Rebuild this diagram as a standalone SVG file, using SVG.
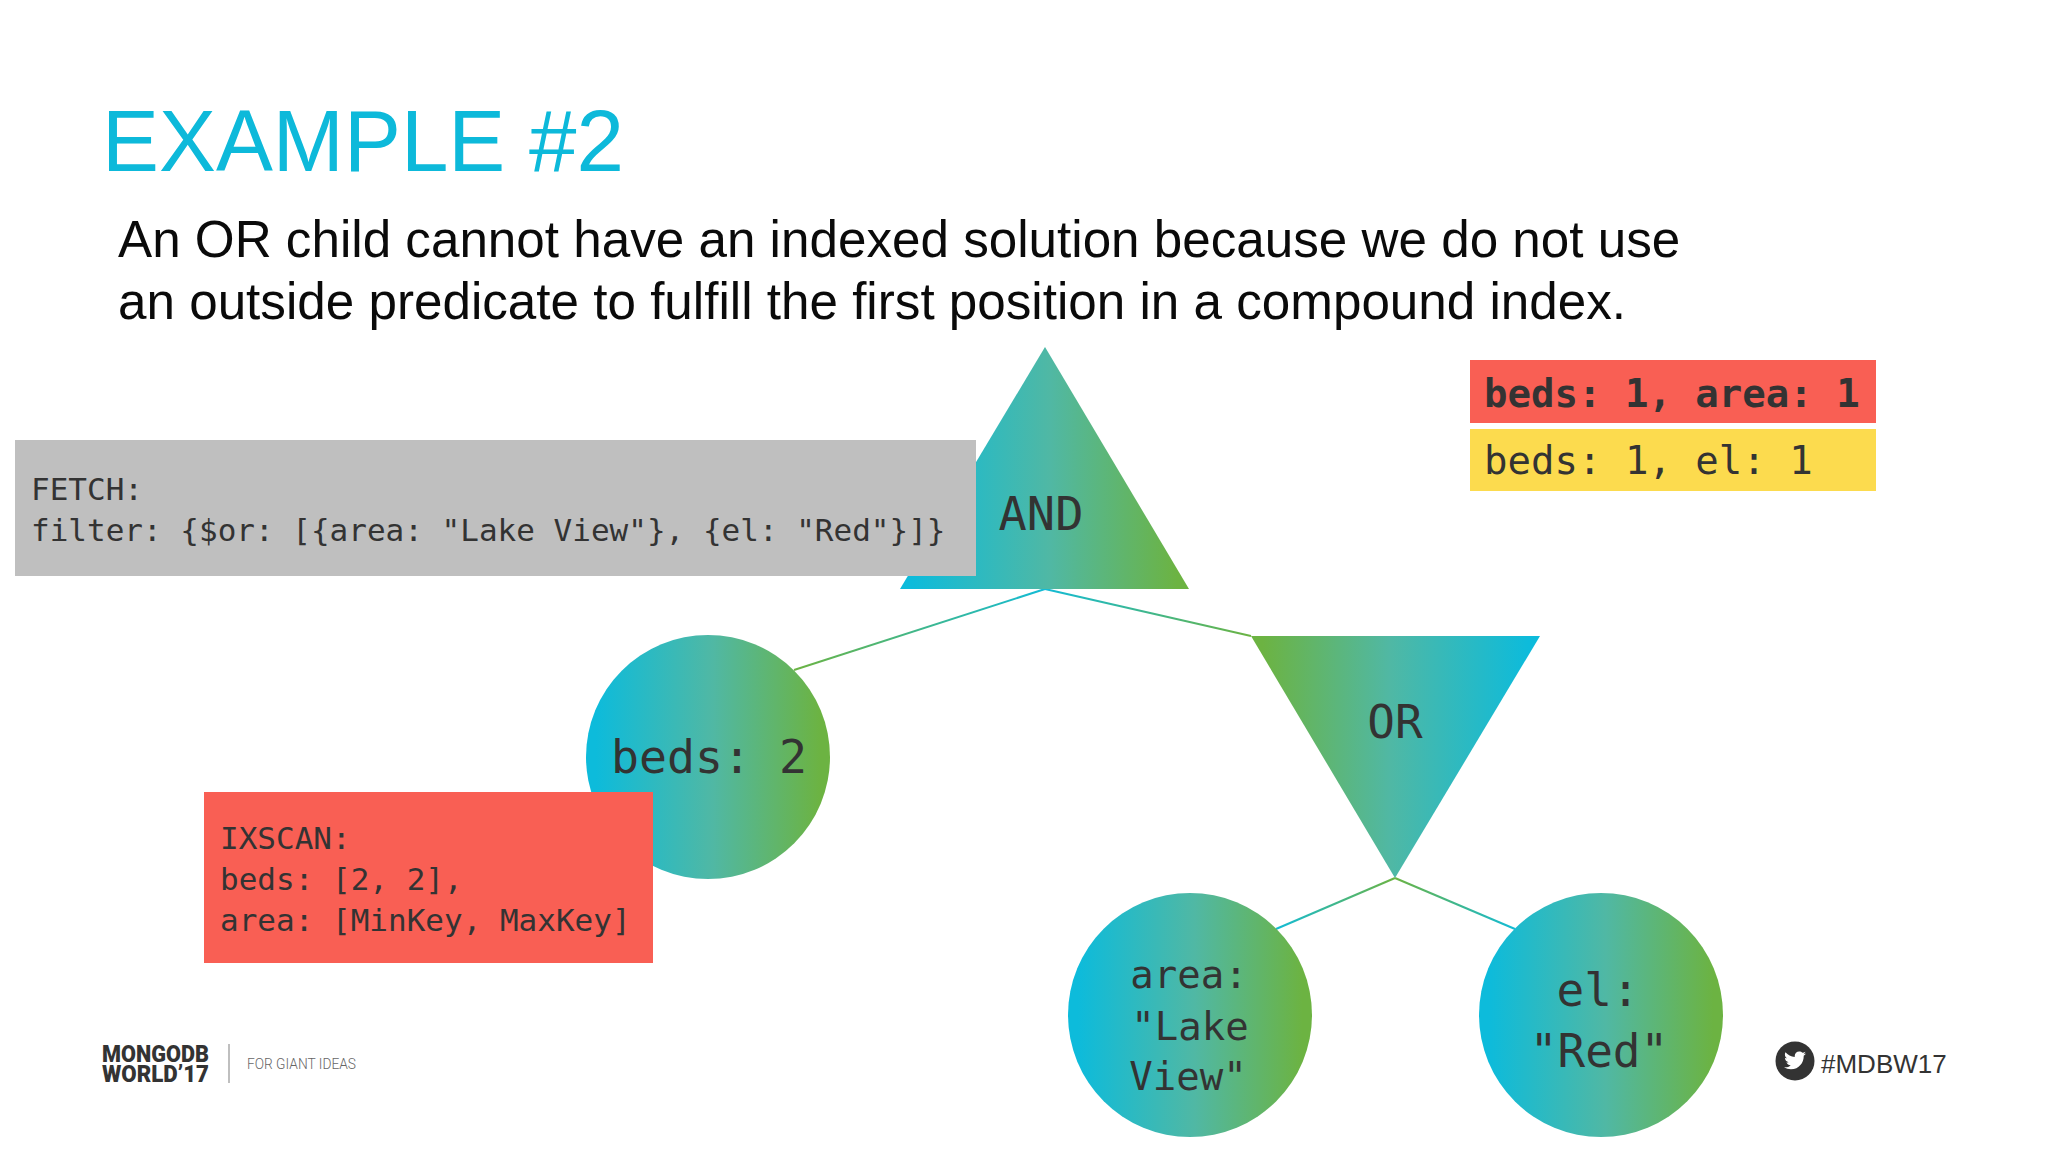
<svg xmlns="http://www.w3.org/2000/svg" width="2048" height="1152" viewBox="0 0 2048 1152">
<style>
.mono{font-family:"DejaVu Sans Mono","Liberation Mono",monospace;fill:#333}
.sans{font-family:"Liberation Sans",Arial,sans-serif}
.c{text-anchor:middle}
.link{fill:none;stroke-width:2}
</style>
<defs>
<linearGradient id="cg" x1="0" y1="0" x2="1" y2="0"><stop offset="0.04" stop-color="#0dbbdb"/><stop offset="0.52" stop-color="#50b8a4"/><stop offset="0.96" stop-color="#6cb342"/></linearGradient>
<linearGradient id="gc" x1="0" y1="0" x2="1" y2="0"><stop offset="0.04" stop-color="#6cb342"/><stop offset="0.48" stop-color="#50b8a4"/><stop offset="0.96" stop-color="#0dbbdb"/></linearGradient>
<linearGradient id="l1" gradientUnits="userSpaceOnUse" x1="1045" y1="589" x2="794" y2="670"><stop offset="0" stop-color="#13bbd6"/><stop offset="1" stop-color="#6cb342"/></linearGradient>
<linearGradient id="l2" gradientUnits="userSpaceOnUse" x1="1045" y1="589" x2="1251" y2="636"><stop offset="0" stop-color="#13bbd6"/><stop offset="1" stop-color="#6cb342"/></linearGradient>
<linearGradient id="l3" gradientUnits="userSpaceOnUse" x1="1276" y1="929" x2="1395" y2="878"><stop offset="0" stop-color="#13bbd6"/><stop offset="1" stop-color="#6cb342"/></linearGradient>
<linearGradient id="l4" gradientUnits="userSpaceOnUse" x1="1395" y1="878" x2="1515" y2="929"><stop offset="0" stop-color="#6cb342"/><stop offset="1" stop-color="#13bbd6"/></linearGradient>
</defs>
<rect width="2048" height="1152" fill="#fff"/>
<text class="sans" x="102" y="171" font-size="88" fill="#0db9da" textLength="522" lengthAdjust="spacingAndGlyphs">EXAMPLE #2</text>
<text class="sans" font-size="51.200" fill="#0a0a0a"><tspan x="118" y="257">An OR child cannot have an indexed solution because we do not use</tspan><tspan x="118" y="319">an outside predicate to fulfill the first position in a compound index.</tspan></text>
<g id="connectors">
<path class="link" stroke="url(#l1)" d="M1045 589L794 670"/>
<path class="link" stroke="url(#l2)" d="M1045 589L1251 636"/>
<path class="link" stroke="url(#l3)" d="M1395 878L1276 929"/>
<path class="link" stroke="url(#l4)" d="M1395 878L1515 929"/>
</g>
<g id="node-and"><polygon points="1045,347 1189,589 900,589" fill="url(#cg)"/><text class="mono c" x="1041" y="530" font-size="47">AND</text></g>
<g id="node-or"><polygon points="1251,636 1540,636 1395,878" fill="url(#gc)"/><text class="mono c" x="1395" y="738" font-size="46">OR</text></g>
<g id="node-beds"><circle cx="708" cy="757" r="122" fill="url(#cg)"/><text class="mono c" x="709" y="773" font-size="46.500">beds: 2</text></g>
<g id="node-area"><circle cx="1190" cy="1015" r="122" fill="url(#cg)"/><text class="mono c" font-size="39"><tspan x="1189" y="988">area:</tspan><tspan x="1190" y="1040">"Lake</tspan><tspan x="1188" y="1090">View"</tspan></text></g>
<g id="node-el"><circle cx="1601" cy="1015" r="122" fill="url(#cg)"/><text class="mono c" font-size="46"><tspan x="1598" y="1006">el:</tspan><tspan x="1599" y="1067">"Red"</tspan></text></g>
<g id="fetch"><rect x="15" y="440" width="961" height="136" fill="#bfbfbf"/><text class="mono" font-size="31"><tspan x="31" y="500">FETCH:</tspan><tspan x="31" y="541">filter: {$or: [{area: "Lake View"}, {el: "Red"}]}</tspan></text></g>
<g id="ixscan"><rect x="204" y="792" width="449" height="171" fill="#f95f54"/><text class="mono" font-size="31"><tspan x="220" y="849">IXSCAN:</tspan><tspan x="220" y="890">beds: [2, 2],</tspan><tspan x="220" y="931">area: [MinKey, MaxKey]</tspan></text></g>
<g id="index-1"><rect x="1470" y="360" width="406" height="63" fill="#f95f54"/><text class="mono" x="1484" y="407" font-size="39" font-weight="700">beds: 1, area: 1</text></g>
<g id="index-2"><rect x="1470" y="429" width="406" height="62" fill="#fcdb4e"/><text class="mono" x="1484" y="474" font-size="39">beds: 1, el: 1</text></g>
<g id="logo"><text font-family="Roboto,'Liberation Sans',sans-serif" font-weight="900" font-size="23" fill="#333" x="102" y="1062" textLength="107" lengthAdjust="spacingAndGlyphs">MONGODB</text>
<text font-family="Roboto,'Liberation Sans',sans-serif" font-weight="900" font-size="23" fill="#333" x="102" y="1082" textLength="107" lengthAdjust="spacingAndGlyphs">WORLD’17</text>
<path d="M229 1044V1083" stroke="#aaa" stroke-width="1.500"/>
<text font-family="Roboto,'Liberation Sans',sans-serif" font-weight="300" x="247" y="1069" font-size="15.500" fill="#666" textLength="109" lengthAdjust="spacingAndGlyphs">FOR GIANT IDEAS</text></g>
<g id="hashtag"><circle cx="1795" cy="1061" r="19.500" fill="#333"/>
<path fill="#fff" d="M1806 1053.500c-.8.400-1.700.600-2.600.700.900-.600 1.700-1.400 2-2.500-.900.500-1.800.900-2.900 1.100-.800-.900-2-1.400-3.300-1.400-2.500 0-4.500 2-4.500 4.500 0 .400 0 .700.100 1-3.800-.200-7.100-2-9.300-4.700-.400.700-.600 1.400-.600 2.300 0 1.600.800 3 2 3.800-.700 0-1.400-.200-2-.600v.100c0 2.200 1.600 4 3.600 4.400-.400.100-.800.200-1.200.200-.300 0-.600 0-.800-.100.600 1.800 2.200 3.100 4.200 3.100-1.500 1.200-3.500 1.900-5.600 1.900-.400 0-.700 0-1.100-.100 2 1.300 4.400 2 6.900 2 8.300 0 12.800-6.900 12.800-12.800v-.600c.900-.600 1.700-1.400 2.300-2.300z"/>
<text class="sans" x="1821" y="1073" font-size="26" fill="#333">#MDBW17</text></g>
</svg>
